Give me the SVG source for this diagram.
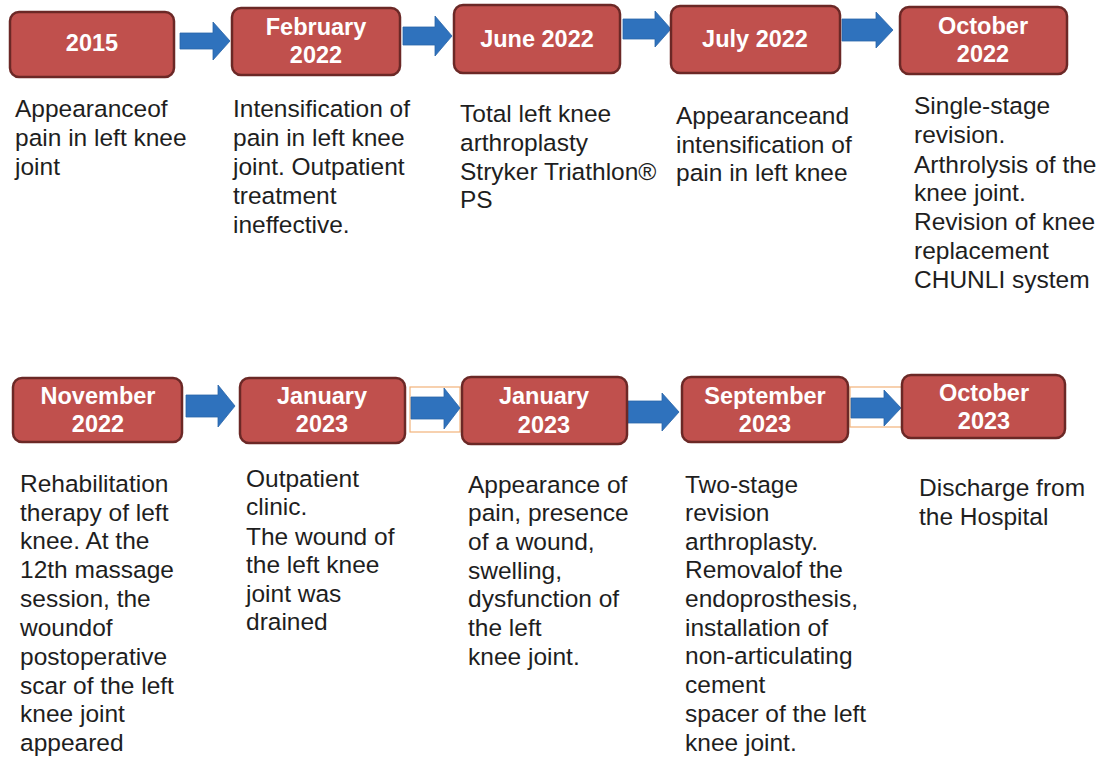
<svg xmlns="http://www.w3.org/2000/svg" width="1102" height="758" viewBox="0 0 1102 758">
<style>
.box{fill:#c0504d;stroke:#6b2826;stroke-width:2.5}
.bt{font-family:"Liberation Sans",Arial,sans-serif;font-weight:bold;font-size:23.5px;fill:#ffffff;text-anchor:middle}
.tx{font-family:"Liberation Sans",Arial,sans-serif;font-size:24.5px;fill:#1e1e1e}
.arr{fill:#2f72bd;stroke:#2a65a8;stroke-width:0.8}
.orn{fill:#ffffff;stroke:#f2b27a;stroke-width:1.2}
</style>
<rect width="1102" height="758" fill="#ffffff"/>
<g id="connectors">
<path class="arr" d="M180,33 H213 V22 L230,41 L213,60 V49 H180 Z"/>
<path class="arr" d="M403,27 H435 V16 L452,36 L435,56 V45 H403 Z"/>
<path class="arr" d="M623,19 H655 V11 L671,29 L655,47 V39 H623 Z"/>
<path class="arr" d="M842,19 H876 V12 L893,30 L876,48 V41 H842 Z"/>
<path class="arr" d="M186,395 H218 V385 L235,406 L218,427 V417 H186 Z"/>
<rect class="orn" x="410" y="387" width="50" height="45"/>
<path class="arr" d="M411,397 H444 V388 L460,408 L444,429 V419 H411 Z"/>
<path class="arr" d="M628,401 H662 V393 L679,412 L662,431 V423 H628 Z"/>
<rect class="orn" x="850" y="387" width="52" height="40"/>
<path class="arr" d="M851,398 H884 V390 L901,408 L884,426 V418 H851 Z"/>
</g>
<g id="n1">
<rect class="box" x="10" y="12" width="164" height="65" rx="9"/>
<text class="bt" x="92" y="51">2015</text>
<text class="tx"><tspan x="15" y="117">Appearanceof</tspan><tspan x="15" y="146">pain in left knee</tspan><tspan x="15" y="175">joint</tspan></text>
</g>
<g id="n2">
<rect class="box" x="232" y="8" width="168" height="67" rx="9"/>
<text class="bt"><tspan x="316" y="35">February</tspan><tspan x="316" y="63">2022</tspan></text>
<text class="tx"><tspan x="233" y="117">Intensification of</tspan><tspan x="233" y="146">pain in left knee</tspan><tspan x="233" y="175">joint. Outpatient</tspan><tspan x="233" y="204">treatment</tspan><tspan x="233" y="233">ineffective.</tspan></text>
</g>
<g id="n3">
<rect class="box" x="454" y="5" width="166" height="68" rx="9"/>
<text class="bt" x="537" y="47">June 2022</text>
<text class="tx"><tspan x="460" y="122">Total left knee</tspan><tspan x="460" y="151">arthroplasty</tspan><tspan x="460" y="180">Stryker Triathlon®</tspan><tspan x="460" y="208">PS</tspan></text>
</g>
<g id="n4">
<rect class="box" x="671" y="6" width="169" height="67" rx="9"/>
<text class="bt" x="755" y="47">July 2022</text>
<text class="tx"><tspan x="676" y="124">Appearanceand</tspan><tspan x="676" y="153">intensification of</tspan><tspan x="676" y="181">pain in left knee</tspan></text>
</g>
<g id="n5">
<rect class="box" x="900" y="7" width="167" height="67" rx="9"/>
<text class="bt"><tspan x="983" y="34">October</tspan><tspan x="983" y="62">2022</tspan></text>
<text class="tx"><tspan x="914" y="114">Single-stage</tspan><tspan x="914" y="143">revision.</tspan><tspan x="914" y="173">Arthrolysis of the</tspan><tspan x="914" y="201">knee joint.</tspan><tspan x="914" y="230">Revision of knee</tspan><tspan x="914" y="259">replacement</tspan><tspan x="914" y="288">CHUNLI system</tspan></text>
</g>
<g id="n6">
<rect class="box" x="13" y="378" width="169" height="64" rx="9"/>
<text class="bt"><tspan x="98" y="404">November</tspan><tspan x="98" y="432">2022</tspan></text>
<text class="tx"><tspan x="20" y="492">Rehabilitation</tspan><tspan x="20" y="521">therapy of left</tspan><tspan x="20" y="549">knee. At the</tspan><tspan x="20" y="578">12th massage</tspan><tspan x="20" y="607">session, the</tspan><tspan x="20" y="636">woundof</tspan><tspan x="20" y="665">postoperative</tspan><tspan x="20" y="694">scar of the left</tspan><tspan x="20" y="722">knee joint</tspan><tspan x="20" y="751">appeared</tspan></text>
</g>
<g id="n7">
<rect class="box" x="240" y="378" width="165" height="65" rx="9"/>
<text class="bt"><tspan x="322" y="404">January</tspan><tspan x="322" y="432">2023</tspan></text>
<text class="tx"><tspan x="246" y="487">Outpatient</tspan><tspan x="246" y="515">clinic.</tspan><tspan x="246" y="545">The wound of</tspan><tspan x="246" y="573">the left knee</tspan><tspan x="246" y="602">joint was</tspan><tspan x="246" y="630">drained</tspan></text>
</g>
<g id="n8">
<rect class="box" x="462" y="377" width="165" height="67" rx="9"/>
<text class="bt"><tspan x="544" y="404">January</tspan><tspan x="544" y="433">2023</tspan></text>
<text class="tx"><tspan x="468" y="493">Appearance of</tspan><tspan x="468" y="521">pain, presence</tspan><tspan x="468" y="550">of a wound,</tspan><tspan x="468" y="579">swelling,</tspan><tspan x="468" y="607">dysfunction of</tspan><tspan x="468" y="636">the left</tspan><tspan x="468" y="665">knee joint.</tspan></text>
</g>
<g id="n9">
<rect class="box" x="682" y="377" width="166" height="65" rx="9"/>
<text class="bt"><tspan x="765" y="404">September</tspan><tspan x="765" y="432">2023</tspan></text>
<text class="tx"><tspan x="685" y="493">Two-stage</tspan><tspan x="685" y="521">revision</tspan><tspan x="685" y="550">arthroplasty.</tspan><tspan x="685" y="578">Removalof the</tspan><tspan x="685" y="607">endoprosthesis,</tspan><tspan x="685" y="636">installation of</tspan><tspan x="685" y="664">non-articulating</tspan><tspan x="685" y="693">cement</tspan><tspan x="685" y="722">spacer of the left</tspan><tspan x="685" y="751">knee joint.</tspan></text>
</g>
<g id="n10">
<rect class="box" x="902" y="375" width="163" height="63" rx="9"/>
<text class="bt"><tspan x="984" y="401">October</tspan><tspan x="984" y="429">2023</tspan></text>
<text class="tx"><tspan x="919" y="496">Discharge from</tspan><tspan x="919" y="525">the Hospital</tspan></text>
</g>
</svg>
